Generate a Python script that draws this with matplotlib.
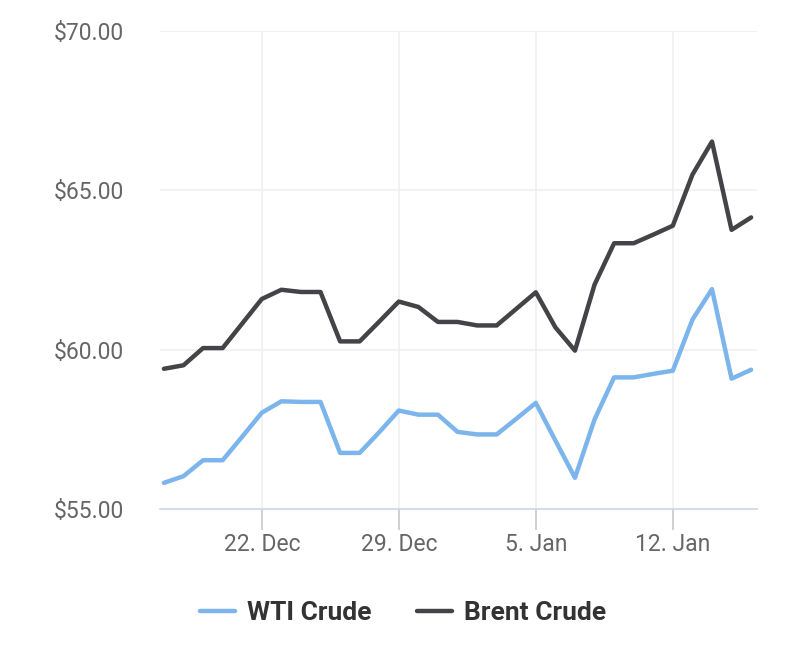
import matplotlib
matplotlib.use("Agg")
import matplotlib.pyplot as plt
import matplotlib.dates as mdates
import numpy as np
import pandas as pd

plt.rcParams['font.family'] = ['Roboto', 'DejaVu Sans']

dates = pd.date_range('2014-12-17', '2015-01-16', freq='D')
wti = [55.82, 56.03, 56.53, 56.53, 57.27, 58.02, 58.38, 58.36, 58.36, 56.76, 56.76,
       57.41, 58.09, 57.96, 57.96, 57.42, 57.34, 57.34, 57.83, 58.33, 57.15, 55.98,
       57.81, 59.13, 59.13, 59.24, 59.34, 60.94, 61.90, 59.09, 59.37]
brent = [59.40, 59.51, 60.05, 60.05, 60.82, 61.59, 61.88, 61.81, 61.81, 60.26, 60.26,
         60.88, 61.51, 61.34, 60.87, 60.87, 60.76, 60.76, 61.28, 61.80, 60.70, 59.97,
         62.04, 63.34, 63.34, 63.61, 63.89, 65.49, 66.53, 63.76, 64.15]
series_names = ['WTI Crude', 'Brent Crude']
series_colors = ['#7cb5ec', '#434348']
tick_dates = ['2014-12-22', '2014-12-29', '2015-01-05', '2015-01-12']
tick_labels = ['22. Dec', '29. Dec', '5. Jan', '12. Jan']
y_ticks = [55, 60, 65, 70]

fig = plt.figure(figsize=(8.06, 6.46), dpi=100)
ax = fig.add_axes([160/806, 1-509/646, (757-160)/806, (509-31)/646])

x = mdates.date2num(dates)
for vals, name, col in zip([wti, brent], series_names, series_colors):
    ax.plot(x, vals, color=col, lw=3.2, label=name, solid_joinstyle='round',
            solid_capstyle='round', zorder=3)

ax.set_ylim(55, 70)
ax.set_xlim(x[0] - 0.2, x[-1] + 0.3)
ax.set_yticks(y_ticks)
ax.set_yticklabels([f'${v:.2f}' for v in y_ticks])
tx = mdates.date2num(pd.to_datetime(tick_dates))
ax.set_xticks(tx)
ax.set_xticklabels(tick_labels)

ax.grid(True, color='#f0f0f0', lw=1.2, zorder=0)
for s in ['top', 'right', 'left']:
    ax.spines[s].set_visible(False)
ax.spines['bottom'].set_color('#ccd6eb')
ax.spines['bottom'].set_linewidth(1.2)
ax.spines['bottom'].set_zorder(4)
ax.tick_params(axis='x', length=15, width=1.2, color='#c8c8c8', pad=2,
               labelsize=16.5, labelcolor='#666666')
ax.tick_params(axis='y', length=0, pad=26, labelsize=16.5, labelcolor='#666666')

leg = fig.legend(loc='center', bbox_to_anchor=(0.5, 1-613/646), ncol=2, frameon=False,
                 prop={'weight': 'bold', 'size': 19}, handlelength=1.35,
                 columnspacing=1.7, handletextpad=0.45)
for t in leg.get_texts():
    t.set_color('#333333')

fig.savefig('out.png', dpi=100)
